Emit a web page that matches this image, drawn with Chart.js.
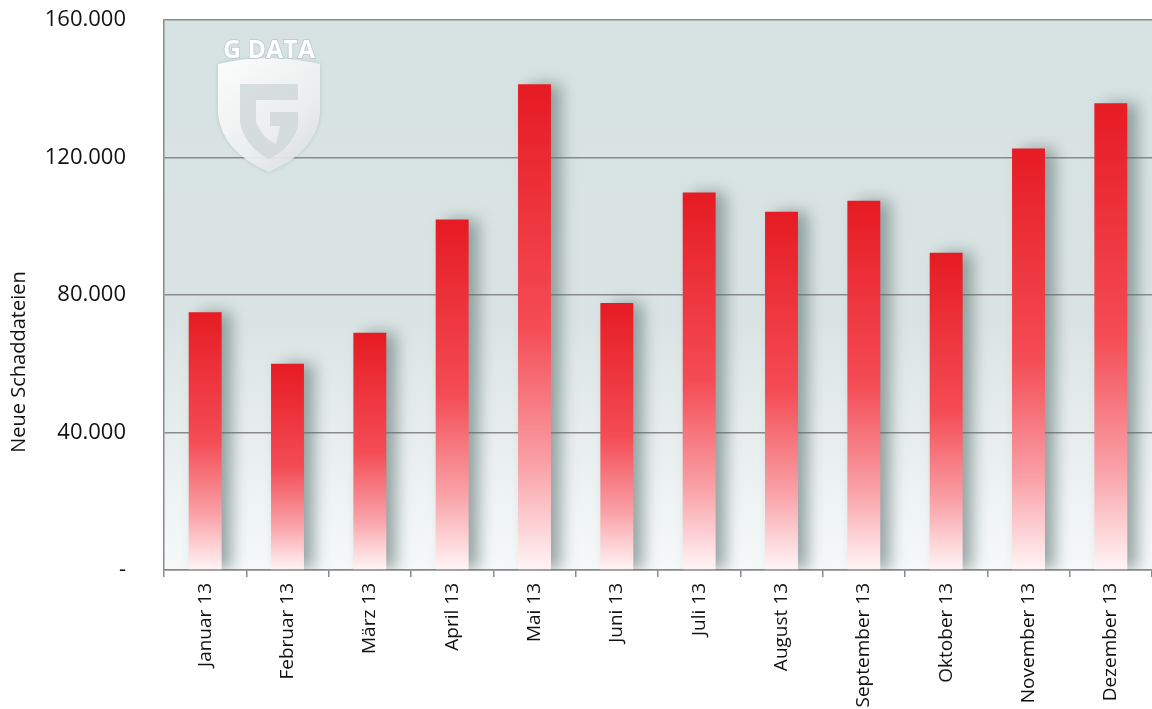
<!DOCTYPE html>
<html>
<head>
<meta charset="utf-8">
<script src="https://cdn.jsdelivr.net/npm/chart.js@4/dist/chart.umd.min.js"></script>
<style>
  html, body { margin: 0; padding: 0; background: #fff; }
  #wrap { width: 1152px; height: 709px; position: relative; }
</style>
</head>
<body>
<div id="wrap"><canvas id="chart"></canvas></div>
<script>
const months = ['Januar 13', 'Februar 13', 'März 13', 'April 13', 'Mai 13', 'Juni 13',
    'Juli 13', 'August 13', 'September 13', 'Oktober 13', 'November 13', 'Dezember 13'];
const newMalware = [75000, 60000, 69000, 102000, 141300, 77700,
    109800, 104200, 107400, 92300, 122600, 135800];
const yTicks = [0, 40000, 80000, 120000, 160000];
const yTitle = 'Neue Schaddateien';

function fmt(v) {
    if (v === 0) return '-';
    return String(v).replace(/\B(?=(\d{3})+(?!\d))/g, '.');
}

// plot background, fading towards the bottom
const bgPlugin = {
    id: 'bg',
    beforeDraw(chart) {
        const { ctx, chartArea: a } = chart;
        const g = ctx.createLinearGradient(0, a.top, 0, a.bottom);
        g.addColorStop(0, '#d6e2e2');
        g.addColorStop(0.55, '#dbe4e4');
        g.addColorStop(1, '#f6f9f9');
        ctx.save();
        ctx.fillStyle = g;
        ctx.fillRect(a.left, a.top, a.right - a.left, a.bottom - a.top);
        ctx.restore();
    }
};

// watermark logo + rotated axis title
const decoPlugin = {
    id: 'deco',
    beforeDatasetsDraw(chart) {
        const ctx = chart.ctx;
        ctx.save();
        // shield
        const x0 = 218, y0 = 64;
        ctx.beginPath();
        ctx.moveTo(x0, y0);
        ctx.quadraticCurveTo(x0 + 50, y0 - 12, x0 + 102, y0);
        ctx.lineTo(x0 + 102, y0 + 50);
        ctx.quadraticCurveTo(x0 + 98, y0 + 88, x0 + 51, y0 + 108);
        ctx.quadraticCurveTo(x0 + 4, y0 + 88, x0, y0 + 50);
        ctx.closePath();
        const sg = ctx.createLinearGradient(x0, y0, x0 + 102, y0 + 110);
        sg.addColorStop(0, 'rgba(255,255,255,0.95)');
        sg.addColorStop(0.6, 'rgba(240,242,242,0.9)');
        sg.addColorStop(1, 'rgba(215,220,220,0.9)');
        ctx.fillStyle = sg;
        ctx.shadowColor = 'rgba(120,135,135,0.35)';
        ctx.shadowBlur = 4;
        ctx.fill();
        ctx.shadowColor = 'transparent';
        // G inside
        ctx.beginPath();
        ctx.moveTo(x0 + 22, y0 + 20);
        ctx.lineTo(x0 + 80, y0 + 20);
        ctx.lineTo(x0 + 80, y0 + 36);
        ctx.lineTo(x0 + 38, y0 + 36);
        ctx.lineTo(x0 + 38, y0 + 58);
        ctx.quadraticCurveTo(x0 + 44, y0 + 74, x0 + 58, y0 + 80);
        ctx.lineTo(x0 + 62, y0 + 62);
        ctx.lineTo(x0 + 52, y0 + 62);
        ctx.lineTo(x0 + 52, y0 + 48);
        ctx.lineTo(x0 + 80, y0 + 48);
        ctx.lineTo(x0 + 80, y0 + 62);
        ctx.quadraticCurveTo(x0 + 74, y0 + 84, x0 + 51, y0 + 95);
        ctx.quadraticCurveTo(x0 + 26, y0 + 82, x0 + 22, y0 + 58);
        ctx.closePath();
        ctx.fillStyle = 'rgba(205,213,213,0.75)';
        ctx.fill();
        ctx.font = 'bold 25px "Open Sans"';
        ctx.fillStyle = 'rgba(255,255,255,0.95)';
        ctx.strokeStyle = 'rgba(185,195,195,0.9)';
        ctx.lineWidth = 1.5;
        ctx.textAlign = 'center';
        ctx.textBaseline = 'alphabetic';
        ctx.strokeText('G DATA', x0 + 51, y0 - 6);
        ctx.fillText('G DATA', x0 + 51, y0 - 6);
        ctx.restore();

        ctx.save();
        ctx.translate(19, 362);
        ctx.rotate(-Math.PI / 2);
        ctx.font = '20px "Open Sans"';
        ctx.fillStyle = '#111';
        ctx.textAlign = 'center';
        ctx.textBaseline = 'middle';
        ctx.fillText(yTitle, 0, 0);
        ctx.restore();
    }
};

// soft shadow to the right of each bar
const shadowPlugin = {
    id: 'barShadow',
    beforeDatasetDraw(chart) {
        const ctx = chart.ctx;
        ctx.save();
        ctx.shadowColor = 'rgba(90,110,110,0.6)';
        ctx.shadowBlur = 16;
        ctx.shadowOffsetX = 10;
        ctx.shadowOffsetY = 0;
    },
    afterDatasetDraw(chart) {
        chart.ctx.restore();
    }
};

function barFill(context) {
    const chart = context.chart;
    const a = chart.chartArea;
    if (!a) return '#e81f27';
    const v = context.raw;
    const top = chart.scales.y.getPixelForValue(v);
    const g = chart.ctx.createLinearGradient(0, top, 0, a.bottom);
    g.addColorStop(0, '#e61b23');
    g.addColorStop(0.5, '#f44c55');
    g.addColorStop(0.78, '#f9a0a6');
    g.addColorStop(1, '#fff5f6');
    return g;
}

new Chart(document.getElementById('chart'), {
    type: 'bar',
    data: {
        labels: months,
        datasets: [{
            data: newMalware,
            backgroundColor: barFill,
            borderWidth: 0,
            categoryPercentage: 1,
            barPercentage: 0.4
        }]
    },
    options: {
        responsive: true,
        maintainAspectRatio: false,
        animation: false,
        layout: { padding: { top: 20, right: 0, left: 0, bottom: 0 } },
        plugins: {
            legend: { display: false },
            tooltip: { enabled: false }
        },
        scales: {
            x: {
                afterFit(scale) { scale.height = 139; },
                grid: {
                    offset: true,
                    drawOnChartArea: false,
                    drawTicks: true,
                    tickLength: 7,
                    color: '#8a8a8a',
                    lineWidth: 1.5
                },
                border: { color: '#8a8a8a', width: 1.5 },
                ticks: {
                    minRotation: 90,
                    maxRotation: 90,
                    padding: 6,
                    color: '#111',
                    font: { family: '"Open Sans"', size: 19 }
                }
            },
            y: {
                min: 0,
                max: 160000,
                afterFit(scale) { scale.width = 164; },
                afterBuildTicks(scale) { scale.ticks = yTicks.map(v => ({ value: v })); },
                grid: {
                    drawTicks: true,
                    tickLength: 34,
                    tickColor: 'rgba(0,0,0,0)',
                    color: '#8a8a8a',
                    lineWidth: 1.5
                },
                border: { color: '#8a8a8a', width: 1.5 },
                ticks: {
                    padding: 4,
                    color: '#111',
                    font: { family: '"Open Sans"', size: 22 },
                    callback: v => fmt(v)
                }
            }
        }
    },
    plugins: [bgPlugin, decoPlugin, shadowPlugin]
});
</script>
</body>
</html>
